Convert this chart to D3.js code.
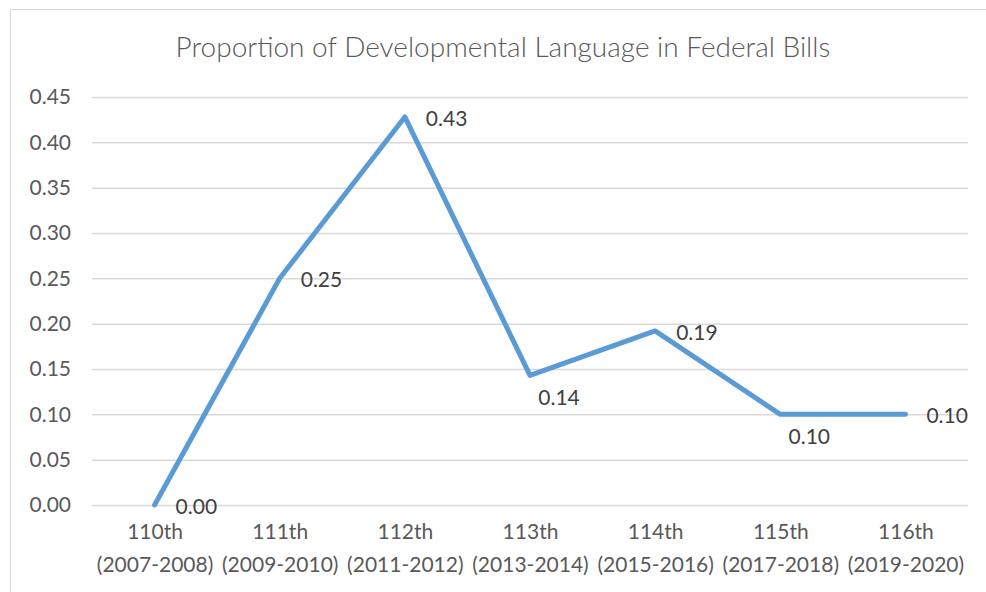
<!DOCTYPE html>
<html>
<head>
<meta charset="utf-8">
<script src="https://cdn.jsdelivr.net/npm/d3@7"></script>
<style>
  body { margin: 0; background: #fff; }
  text { font-family: Lato, "Open Sans", sans-serif; }
</style>
</head>
<body>
<div id="chart"></div>
<script>
// Chart data
var congresses = ["110th", "111th", "112th", "113th", "114th", "115th", "116th"];
var years = ["(2007-2008)", "(2009-2010)", "(2011-2012)", "(2013-2014)", "(2015-2016)", "(2017-2018)", "(2019-2020)"];
var proportions = [0.00, 0.25, 0.428, 0.143, 0.192, 0.10, 0.10];
var yTicks = [0, 0.05, 0.10, 0.15, 0.20, 0.25, 0.30, 0.35, 0.40, 0.45];
// where each data label sits relative to its point
var labelSide = ["right", "right", "right", "below", "right", "below", "right"];

var w = 986, h = 592;
var plotLeft = 92, plotRight = 968, plotTop = 97, plotBottom = 505;

var svg = d3.select("#chart").append("svg")
    .attr("width", w)
    .attr("height", h);

// chart border
svg.append("rect")
    .attr("x", 10.5).attr("y", 9.5)
    .attr("width", 990).attr("height", 600)
    .attr("fill", "none")
    .attr("stroke", "#d9d9d9");

svg.append("text")
    .attr("x", 503).attr("y", 57)
    .attr("text-anchor", "middle")
    .attr("font-size", 28)
    .attr("font-weight", 300)
    .attr("fill", "#595959")
    .text("Proportion of Developmental Language in Federal Bills");

var xScale = d3.scalePoint()
    .domain(congresses)
    .range([plotLeft, plotRight])
    .padding(0.5);

var yScale = d3.scaleLinear()
    .domain([0, 0.45])
    .range([plotBottom, plotTop]);

// gridlines and y labels
var yAxis = svg.append("g")
    .attr("transform", "translate(" + plotLeft + ",0)")
    .call(d3.axisLeft(yScale).tickValues(yTicks)
        .tickSize(-(plotRight - plotLeft)).tickPadding(21)
        .tickFormat(d3.format(".2f")));
yAxis.select(".domain").remove();
yAxis.selectAll("line").attr("stroke", "#d9d9d9").attr("stroke-width", 1.5);
yAxis.selectAll("text")
    .attr("font-size", 21)
    .attr("fill", "#595959");

// x labels (two lines)
var xAxis = svg.append("g")
    .attr("transform", "translate(0," + plotBottom + ")")
    .call(d3.axisBottom(xScale).tickSize(0).tickFormat(""));
xAxis.select(".domain").remove();
xAxis.selectAll(".tick").each(function(d, i) {
    var t = d3.select(this).append("text")
        .attr("text-anchor", "middle")
        .attr("font-size", 21)
        .attr("fill", "#595959");
    t.append("tspan").attr("x", 0).attr("y", 34).text(congresses[i]);
    t.append("tspan").attr("x", 0).attr("y", 67).text(years[i]);
});

// line
var line = d3.line()
    .x(function(d, i) { return xScale(congresses[i]); })
    .y(function(d) { return yScale(d); });

svg.append("path")
    .datum(proportions)
    .attr("d", line)
    .attr("fill", "none")
    .attr("stroke", "#5b9bd5")
    .attr("stroke-width", 5)
    .attr("stroke-linecap", "round")
    .attr("stroke-linejoin", "round");

// data labels
svg.selectAll(".dlabel")
    .data(proportions)
    .enter()
    .append("text")
    .attr("class", "dlabel")
    .attr("font-size", 21)
    .attr("fill", "#404040")
    .attr("text-anchor", function(d, i) { return labelSide[i] == "right" ? "start" : "middle"; })
    .attr("x", function(d, i) {
        return labelSide[i] == "right" ? xScale(congresses[i]) + 21 : xScale(congresses[i]) + 29;
    })
    .attr("y", function(d, i) {
        return labelSide[i] == "right" ? yScale(d) + 9 : yScale(d) + 30;
    })
    .text(function(d) { return d3.format(".2f")(d); });
</script>
</body>
</html>
